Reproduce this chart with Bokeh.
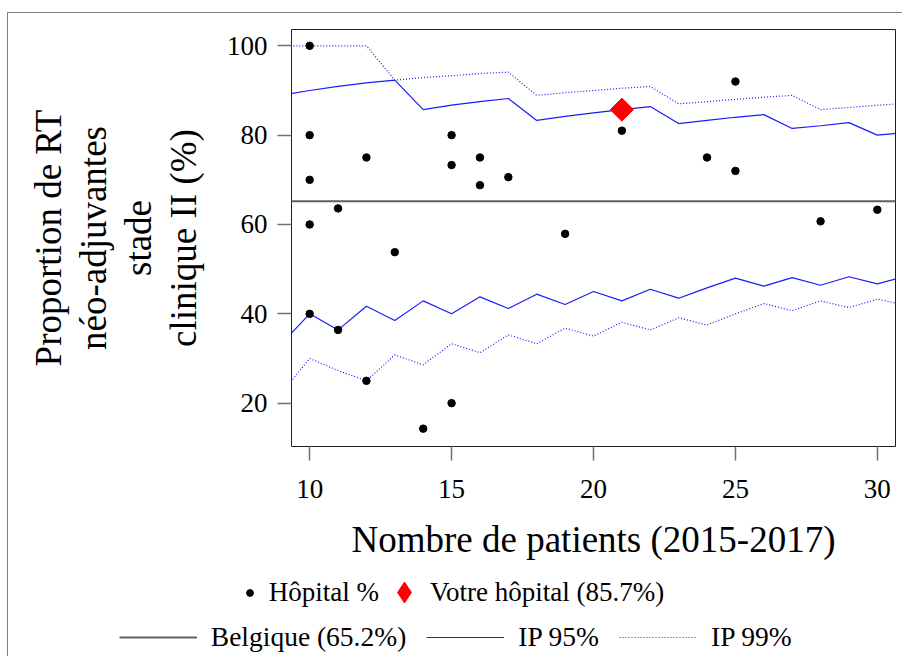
import math
from bokeh.plotting import figure
from bokeh.layouts import column
from bokeh.models import Range1d, FixedTicker, Legend, LegendItem
from bokeh.embed import file_html
from bokeh.resources import INLINE

# ---- data -------------------------------------------------------------
n_limits = [9, 10, 11, 12, 13, 14, 15, 16, 17, 18, 19, 20, 21, 22, 23, 24, 25, 26, 27, 28, 29, 30, 31]
upper95 = [88.9, 90.0, 90.9, 91.7, 92.3, 85.7, 86.7, 87.5, 88.2, 83.3, 84.2, 85.0,
           85.7, 86.4, 82.6, 83.3, 84.0, 84.6, 81.5, 82.1, 82.8, 80.0, 80.6]
lower95 = [33.3, 40.0, 36.4, 41.7, 38.5, 42.9, 40.0, 43.8, 41.2, 44.4, 42.1, 45.0,
           42.9, 45.5, 43.5, 45.8, 48.0, 46.2, 48.1, 46.4, 48.3, 46.7, 48.4]
upper99 = [100.0, 100.0, 100.0, 100.0, 92.3, 92.9, 93.3, 93.8, 94.1, 88.9, 89.5, 90.0,
           90.5, 90.9, 87.0, 87.5, 88.0, 88.5, 88.9, 85.7, 86.2, 86.7, 87.1]
lower99 = [22.2, 30.0, 27.3, 25.0, 30.8, 28.6, 33.3, 31.3, 35.3, 33.3, 36.8, 35.0,
           38.1, 36.4, 39.1, 37.5, 40.0, 42.3, 40.7, 42.9, 41.4, 43.3, 41.9]

hosp_n = [10, 10, 10, 10, 10, 11, 11, 12, 12, 13, 14, 15, 15, 15, 16, 16, 17, 19, 21, 24, 25, 25, 28, 30]
hosp_pct = [100, 80, 70, 60, 40, 63.6, 36.4, 75, 25, 53.8, 14.3, 80, 73.3, 20, 75, 68.8,
            70.6, 57.9, 81.0, 75, 92, 72, 60.7, 63.3]

your_n = [21]
your_pct = [85.7]

belgium_pct = 65.2

x_ticks = [10, 15, 20, 25, 30]
y_ticks = [20, 40, 60, 80, 100]

x_title = "Nombre de patients (2015-2017)"
y_title_lines = ["Proportion de RT", "néo-adjuvantes", "stade", "clinique II (%)"]
legend_hosp = "Hôpital %"
legend_you = "Votre hôpital (85.7%)"
legend_belg = "Belgique (65.2%)"
legend_ip95 = "IP 95%"
legend_ip99 = "IP 99%"

FONT = "Liberation Serif"
BLUE = "#1a1aff"
BELG_COL = "#606060"

# ---- main figure -------------------------------------------------------
W = 895
p = figure(width=W, height=563, output_backend="svg", toolbar_location=None,
           x_range=Range1d(9.36, 30.64), y_range=Range1d(10.3, 103.65),
           min_border_left=283, min_border_right=8, min_border_top=16,
           min_border_bottom=130)

p.xgrid.visible = False
p.ygrid.visible = False
p.outline_line_color = "#202020"
p.outline_line_width = 1
p.background_fill_color = "white"
p.border_fill_color = "white"

for ax in (p.xaxis[0], p.yaxis[0]):
    ax.axis_line_color = None
    ax.major_tick_in = 0
    ax.major_tick_out = 14
    ax.major_tick_line_color = "#707070"
    ax.major_tick_line_width = 1.5
    ax.minor_tick_line_color = None
    ax.major_label_text_font = FONT
    ax.major_label_text_font_size = "27px"
    ax.major_label_text_color = "black"
    ax.axis_label_text_font = FONT
    ax.axis_label_text_font_size = "37px"
    ax.axis_label_text_font_style = "normal"
    ax.axis_label_text_color = "black"

p.xaxis.ticker = FixedTicker(ticks=x_ticks)
p.yaxis.ticker = FixedTicker(ticks=y_ticks)
p.xaxis.major_label_standoff = 19
p.yaxis.major_label_standoff = 10
p.yaxis.major_label_orientation = "horizontal"

p.xaxis.axis_label = x_title
p.xaxis.axis_label_standoff = 18
p.yaxis.axis_label = "\n".join(y_title_lines)
p.yaxis.axis_label_standoff = 20
p.yaxis.axis_label_text_line_height = 1.1

# ---- glyphs -----------------------------------------------------------
p.line(n_limits, [belgium_pct] * len(n_limits), line_color=BELG_COL, line_width=2)
p.line(n_limits, upper95, line_color=BLUE, line_width=1.2)
p.line(n_limits, lower95, line_color=BLUE, line_width=1.2)
p.line(n_limits, upper99, line_color=BLUE, line_width=1.2, line_dash="1 2")
p.line(n_limits, lower99, line_color=BLUE, line_width=1.2, line_dash="1 2")
p.scatter(hosp_n, hosp_pct, marker="circle", size=7.5, color="black")
p.scatter(your_n, your_pct, marker="square", angle=math.pi / 4, size=16.3,
          color="red", line_color="red")

# ---- legend strip (its own canvas, data kept outside its view) ---------
lf = figure(width=W, height=81, output_backend="svg", toolbar_location=None,
            x_range=Range1d(0, 1), y_range=Range1d(0, 1),
            min_border_left=0, min_border_right=0, min_border_top=0, min_border_bottom=0)
lf.axis.visible = False
lf.xgrid.visible = False
lf.ygrid.visible = False
lf.outline_line_color = None

lr_pts = lf.scatter(hosp_n, hosp_pct, marker="circle", color="black")
lr_you = lf.scatter(your_n, your_pct, marker="diamond", color="red", line_color="red")
lr_belg = lf.line(n_limits, [belgium_pct] * len(n_limits), line_color=BELG_COL, line_width=2)
lr_ip95 = lf.line(n_limits, upper95, line_color=BLUE, line_width=1.2)
lr_ip99 = lf.line(n_limits, upper99, line_color=BLUE, line_width=1.2, line_dash="1 2")


def mk_legend(items, loc, gw, gh, standoff, spacing=0, fs="27px"):
    lg = Legend(items=items, location=loc, orientation="horizontal",
                glyph_width=gw, glyph_height=gh, label_standoff=standoff,
                label_height=32, spacing=spacing, padding=0, margin=0,
                border_line_color=None, background_fill_alpha=0,
                label_text_font=FONT, label_text_font_size=fs,
                label_text_color="black")
    lf.add_layout(lg)
    return lg


mk_legend([LegendItem(label=legend_hosp, renderers=[lr_pts])], (232.8, 49), 17, 17, 11)
mk_legend([LegendItem(label=legend_you, renderers=[lr_you])], (370, 39), 52, 52, 0)
mk_legend([LegendItem(label=legend_belg, renderers=[lr_belg]),
           LegendItem(label=legend_ip95, renderers=[lr_ip95]),
           LegendItem(label=legend_ip99, renderers=[lr_ip99])],
          (110.8, 4.5), 78, 20, 14, spacing=20, fs="27.5px")

for f in (p, lf):
    if "frame_align" in f.properties():
        f.frame_align = False

layout = column(p, lf, spacing=0,
                styles={"margin-top": "13px", "margin-left": "8px",
                        "box-shadow": "-1px -1px 0 0 #808080"})

open("out.html", "w").write(file_html(layout, INLINE))
